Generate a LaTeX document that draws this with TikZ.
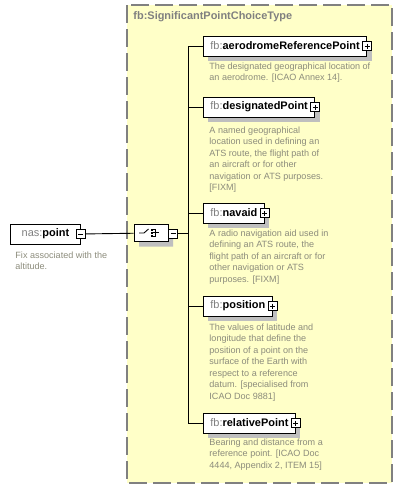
\documentclass[tikz,border=0pt]{standalone}
\usepackage{fontspec}
\setmainfont{Liberation Sans}
\usepackage{tikz}
\usetikzlibrary{shapes.misc,shadows}
\definecolor{choicebg}{HTML}{FFFFC8}
\definecolor{docgray}{HTML}{8C8C7C}
\definecolor{dashgray}{HTML}{808080}
\tikzset{
  boxshadow/.style={drop shadow={fill=black!25,opacity=1,shadow xshift=5bp,shadow yshift=-5bp}},
  elem/.style={draw,fill=white,anchor=west,minimum height=20bp,inner xsep=7bp,inner ysep=0pt,
    font=\fontsize{11}{12}\selectfont,boxshadow},
  plusbox/.style={draw,fill=white,minimum size=9bp,inner sep=0pt,
    path picture={\draw ([xshift=2bp]path picture bounding box.west) -- ([xshift=-2bp]path picture bounding box.east);
                  \draw ([yshift=-2bp]path picture bounding box.north) -- ([yshift=2bp]path picture bounding box.south);}},
  minusbox/.style={draw,fill=white,minimum size=9bp,inner sep=0pt,
    path picture={\draw ([xshift=2bp]path picture bounding box.west) -- ([xshift=-2bp]path picture bounding box.east);}},
  doc/.style={anchor=north west,align=left,inner sep=0pt,text=docgray,font=\fontsize{9.1}{11.6}\selectfont},
}
\newcommand{\fbname}[1]{{\color{dashgray}fb:}\textbf{#1}}
\begin{document}
\begin{tikzpicture}[line width=0.9bp]
\useasboundingbox (0bp,0bp) rectangle (402bp,-489bp);

% choice type area
\draw [fill=choicebg,draw=dashgray,line width=1.3bp,dash pattern=on 18bp off 6bp] (127bp,-5bp) rectangle (392bp,-483bp);
\node (title) at (133bp,-17bp)[anchor=west,inner sep=0pt,text=dashgray,font=\fontsize{11}{12}\selectfont\bfseries] {fb:SignificantPointChoiceType};

% root element
\node (point) at (10bp,-234bp)[draw,fill=white,anchor=west,minimum height=20bp,minimum width=70bp,inner xsep=8bp,font=\fontsize{11}{12}\selectfont] {{\color{dashgray}nas:}\textbf{point}\hspace{6bp}};
\node (pminus) at (point.east)[minusbox] {};
\node (pdoc) at (15bp,-251bp)[doc] {Fix associated with the\\altitude.};

% choice compositor
\node (choice) at (151bp,-233bp)[draw,fill=white,chamfered rectangle,chamfered rectangle xsep=5bp,minimum width=34bp,minimum height=17bp,inner sep=0pt,boxshadow] {};
\draw ([xshift=-12bp]choice.center) -- ++(5bp,0) -- ++(4.5bp,4bp);
\foreach \dy in {-4,-0.8,2.4} {
  \fill ([xshift=0bp,yshift=\dy bp]choice.center) rectangle ++(2.4bp,1.8bp);
  \draw ([xshift=2.4bp,yshift=\dy bp+0.9bp]choice.center) -- ++(2.4bp,0);
}
\draw ([xshift=4.8bp,yshift=-3.1bp]choice.center) -- ++(0,6.4bp);
\draw ([xshift=4.8bp,yshift=0.1bp]choice.center) -- ++(3.5bp,0);
\node (cminus) at (173bp,-233.5bp)[minusbox] {};
\coordinate (spine) at (188bp,-233.5bp);
\draw (pminus) -- (choice);
\draw (choice) -- (cminus);
\draw (cminus) -- (spine);

% choice members
\node (aero) at (203bp,-46bp)[elem] {\fbname{aerodromeReferencePoint}\hspace{6bp}};
\node (aeroplus) at (aero.east)[plusbox] {};
\node (aerodoc) at (209bp,-62bp)[doc] {The designated geographical location of\\an aerodrome. [ICAO Annex 14].};

\node (desig) at (203bp,-107bp)[elem] {\fbname{designatedPoint}\hspace{6bp}};
\node (desigplus) at (desig.east)[plusbox] {};
\node (desigdoc) at (209bp,-126bp)[doc] {A named geographical\\location used in defining an\\ATS route, the flight path of\\an aircraft or for other\\navigation or ATS purposes.\\{[FIXM]}};

\node (navaid) at (203bp,-213bp)[elem] {\fbname{navaid}\hspace{6bp}};
\node (navaidplus) at (navaid.east)[plusbox] {};
\node (navaiddoc) at (209bp,-229bp)[doc] {A radio navigation aid used in\\defining an ATS route, the\\flight path of an aircraft or for\\other navigation or ATS\\purposes. [FIXM]};

\node (pos) at (203bp,-306bp)[elem] {\fbname{position}\hspace{6bp}};
\node (posplus) at (pos.east)[plusbox] {};
\node (posdoc) at (209bp,-323bp)[doc] {The values of latitude and\\longitude that define the\\position of a point on the\\surface of the Earth with\\respect to a reference\\datum. [specialised from\\ICAO Doc 9881]};

\node (rel) at (203bp,-423bp)[elem] {\fbname{relativePoint}\hspace{6bp}};
\node (relplus) at (rel.east)[plusbox] {};
\node (reldoc) at (209bp,-438bp)[doc] {Bearing and distance from a\\reference point. [ICAO Doc\\4444, Appendix 2, ITEM 15]};

\foreach \m in {aero,desig,navaid,pos,rel}
  \draw (\m.west) -| (spine);
\end{tikzpicture}
\end{document}
